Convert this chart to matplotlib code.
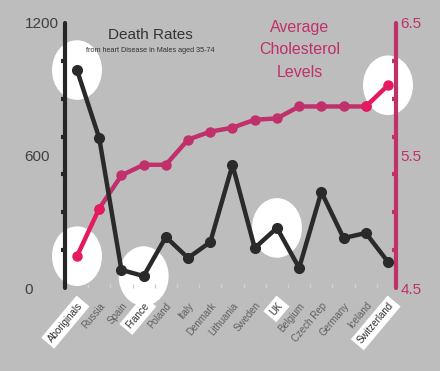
import numpy as np
import matplotlib
matplotlib.use('Agg')
import matplotlib.pyplot as plt
from matplotlib.patches import Ellipse

plt.rcParams['font.family'] = ['Liberation Sans', 'DejaVu Sans']

countries = ['Aboriginals', 'Russia', 'Spain', 'France', 'Poland', 'Italy', 'Denmark',
             'Lithuania', 'Sweden', 'UK', 'Belgium', 'Czech Rep', 'Germany', 'Iceland',
             'Switzerland']
death_rates = [987, 679, 82, 54, 231, 136, 208, 557, 181, 272, 91, 435, 226, 249, 118]
cholesterol = [4.74, 5.10, 5.35, 5.43, 5.43, 5.62, 5.68, 5.71, 5.77, 5.78,
               5.87, 5.87, 5.87, 5.87, 6.03]
death_ticks = [0, 600, 1200]
chol_ticks = [4.5, 5.5, 6.5]
circled_death = ['Aboriginals', 'France', 'UK']
circled_chol = ['Aboriginals', 'Switzerland']
boxed_labels = ['Aboriginals', 'France', 'UK', 'Switzerland']

bg = '#bdbdbd'
dark = '#2a2a2a'
pink = '#c0306a'
hot = '#e5195f'


def main():
    fig = plt.figure(figsize=(4.4, 3.71), dpi=100, facecolor=bg)
    ax = fig.add_axes([65/440, 1-288/371, (396-65)/440, (288-23)/371])
    ax2 = ax.twinx()
    ax.set_zorder(ax2.get_zorder() + 1)
    ax.patch.set_visible(False)
    ax2.patch.set_facecolor(bg)

    x = np.arange(len(countries))
    ax.set_xlim(-0.54, 14.36)
    ax.set_ylim(0, 1200)
    ax2.set_ylim(4.5, 6.5)

    # white highlight blobs
    for c in circled_chol:
        i = countries.index(c)
        ax2.add_patch(Ellipse((x[i], cholesterol[i]), 2.25, 0.45, fc='white', ec='none',
                              zorder=1, clip_on=False))
    for c in circled_death:
        i = countries.index(c)
        ax.add_patch(Ellipse((x[i], death_rates[i]), 2.25, 270, fc='white', ec='none',
                             zorder=1, clip_on=False))

    ax2.plot(x[1:-1], cholesterol[1:-1], 'o-', color=pink, lw=3.2, ms=6.5, zorder=3)
    ax2.plot(x[:2], cholesterol[:2], 'o-', color=hot, lw=3.2, ms=6.5, zorder=4)
    ax2.plot(x[-2:], cholesterol[-2:], 'o-', color=hot, lw=3.2, ms=6.5, zorder=4)
    ax.plot(x, death_rates, 'o-', color=dark, lw=3.2, ms=7, zorder=3)

    # spines
    for s in ['top', 'bottom', 'right']:
        ax.spines[s].set_visible(False)
    for s in ['top', 'bottom', 'left']:
        ax2.spines[s].set_visible(False)
    ax.spines['left'].set_color('#262626')
    ax.spines['left'].set_linewidth(3)
    ax.spines['left'].set_capstyle('round')
    ax2.spines['right'].set_color(pink)
    ax2.spines['right'].set_linewidth(3)
    ax2.spines['right'].set_capstyle('round')

    # y ticks
    ax.set_yticks(death_ticks)
    ax.set_yticks(np.linspace(0, 1200, 8), minor=True)
    ax.tick_params(axis='y', which='major', length=0, pad=29, labelsize=11,
                   labelcolor='#404040')
    for t in ax.get_yticklabels():
        t.set_ha('left')
    ax.tick_params(axis='y', which='minor', length=3, width=3, color='#262626',
                   direction='out')
    ax2.set_yticks(chol_ticks)
    ax2.set_yticks(np.linspace(4.5, 6.5, 8), minor=True)
    ax2.tick_params(axis='y', which='major', length=0, pad=3, labelsize=11,
                    labelcolor=pink)
    ax2.tick_params(axis='y', which='minor', length=3, width=3, color=pink,
                    direction='in')
    ax2.set_xticks([])

    # x ticks
    ax.set_xticks(x)
    ax.set_xticklabels(countries, rotation=50, ha='right', rotation_mode='anchor')
    ax.set_xticks(x[:-1] + 0.5, minor=True)
    ax.tick_params(axis='x', which='major', length=0, pad=9, labelsize=7,
                   labelcolor='#606060')
    ax.tick_params(axis='x', which='minor', length=3, width=1, color='#d2d2d2',
                   direction='in')
    for t in ax.get_xticklabels():
        if t.get_text() in boxed_labels:
            t.set_color('#303030')
            t.set_bbox(dict(facecolor='white', edgecolor='none', pad=2.5))

    fig.text(150/440, 1-35/371, 'Death Rates', ha='center', va='center',
             fontsize=11, color='#333333')
    fig.text(150/440, 1-50/371, 'from heart Disease in Males aged 35-74',
             ha='center', va='center', fontsize=5.2, color='#333333')
    fig.text(300/440, 1-50/371, 'Average\nCholesterol\nLevels', ha='center',
             va='center', fontsize=11.5, color=pink, linespacing=1.6)

    fig.savefig('out.png', dpi=100, facecolor=bg)


if __name__ == '__main__':
    main()
